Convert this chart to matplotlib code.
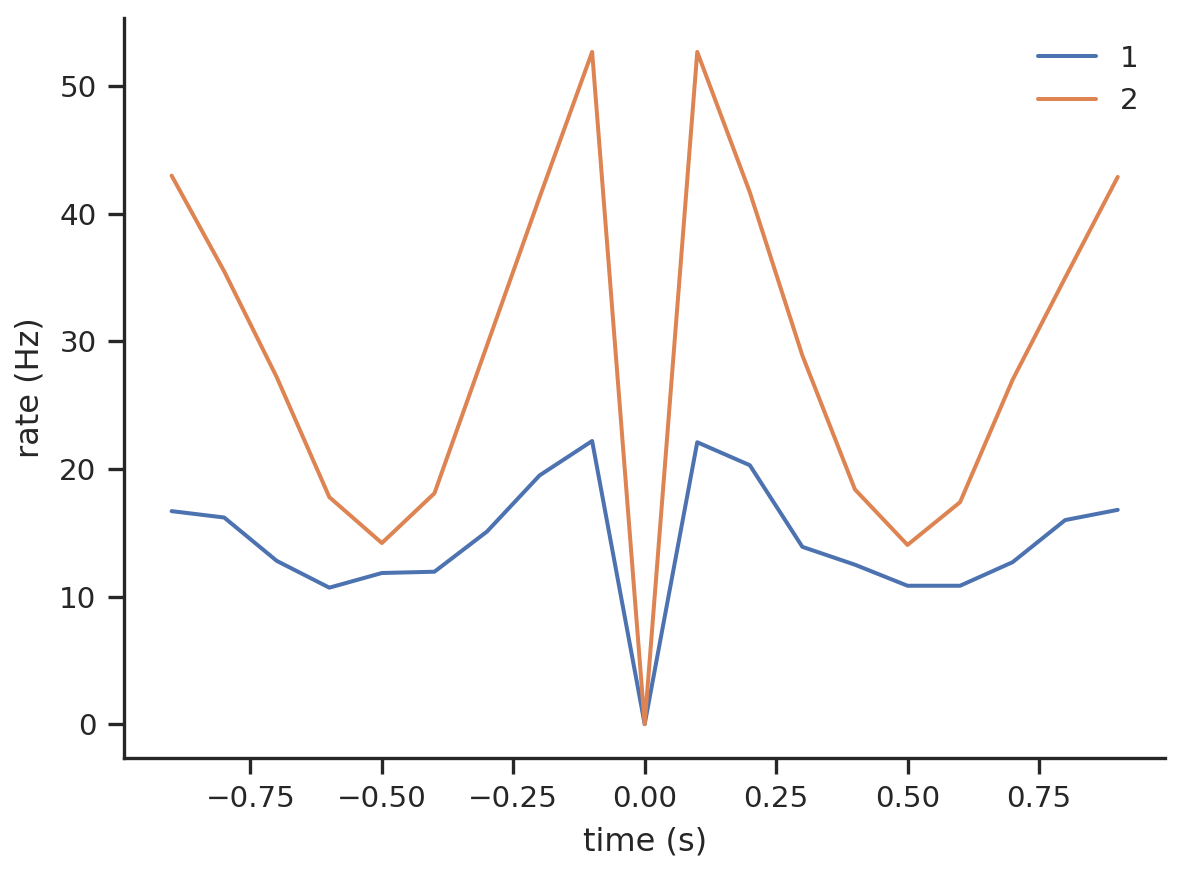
import numpy as np
import matplotlib
matplotlib.use("Agg")
import matplotlib.pyplot as plt
import seaborn as sns

sns.set_theme(context="paper", style="ticks")

# lag bins (s)
time = [-0.9, -0.8, -0.7, -0.6, -0.5, -0.4, -0.3, -0.2, -0.1, 0.0,
        0.1, 0.2, 0.3, 0.4, 0.5, 0.6, 0.7, 0.8, 0.9]

rate_1 = [16.7, 16.2, 12.8, 10.7, 11.85, 11.95, 15.1, 19.5, 22.2, 0.0,
          22.1, 20.3, 13.9, 12.5, 10.85, 10.85, 12.7, 16.0, 16.8]
rate_2 = [43.0, 35.5, 27.2, 17.8, 14.2, 18.1, 29.7, 41.3, 52.7, 0.0,
          52.7, 41.7, 28.9, 18.4, 14.05, 17.4, 27.0, 35.0, 42.9]

fig, ax = plt.subplots(figsize=(1184 / 240, 872 / 240), dpi=240)
ax.plot(time, rate_1, label="1")
ax.plot(time, rate_2, label="2")
ax.set_xlabel("time (s)")
ax.set_ylabel("rate (Hz)")
ax.legend(frameon=False)
sns.despine()
fig.subplots_adjust(left=0.105, right=0.984, top=0.979, bottom=0.131)
fig.savefig("out.png", dpi=240)
